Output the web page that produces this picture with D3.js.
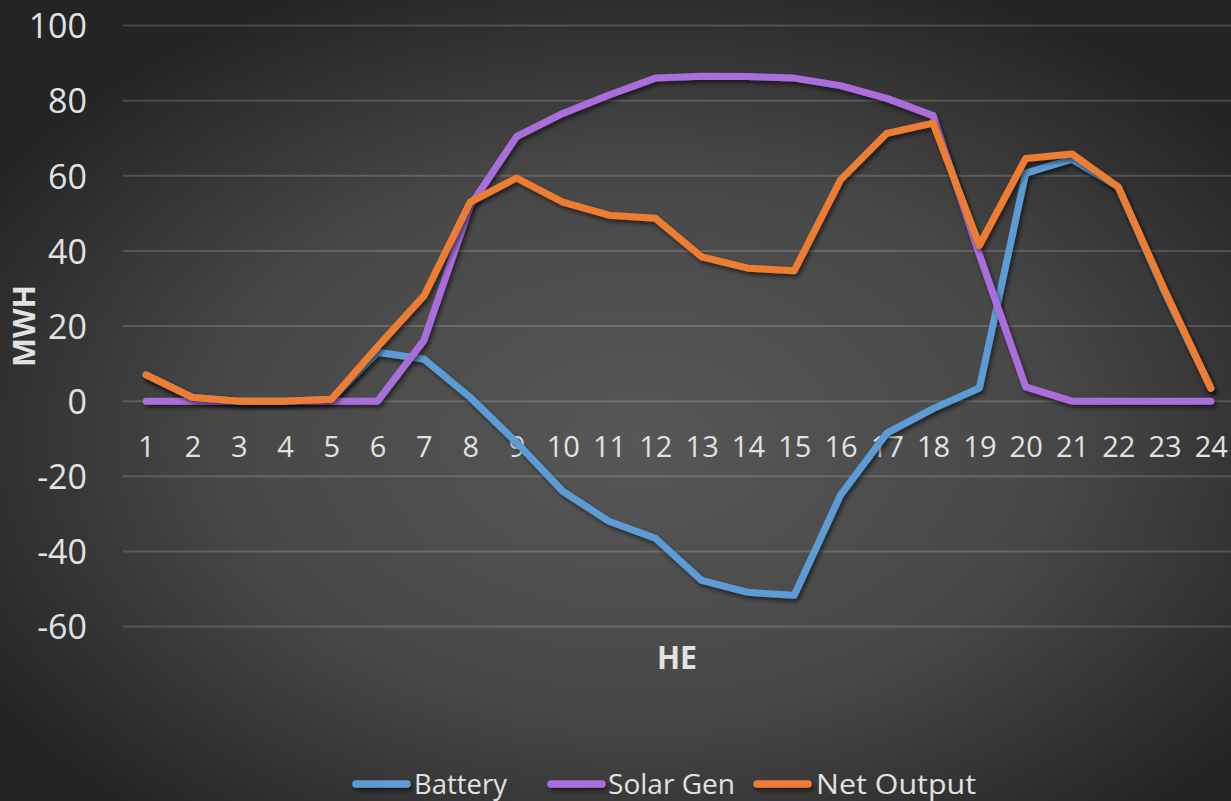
<!DOCTYPE html>
<html>
<head>
<meta charset="utf-8">
<script src="https://cdn.jsdelivr.net/npm/d3@7"></script>
<style>
  html, body { margin: 0; padding: 0; background: #2a2a2a; }
  svg { display: block; }
  text { font-family: "Open Sans", "Noto Sans", sans-serif; fill: #e2e2e2; }
</style>
</head>
<body>
<svg id="chart" width="1231" height="801"></svg>
<script>
const categories = ["1","2","3","4","5","6","7","8","9","10","11","12","13","14","15","16","17","18","19","20","21","22","23","24"];
const battery   = [7, 1, 0, 0, 0.5, 13, 11.2, 1, -11, -24, -32, -36.5, -47.7, -50.9, -51.7, -25, -8.5, -2, 3.5, 60.7, 64.4, 57, 29, 3.4];
const solarGen  = [0, 0, 0, 0, 0, 0, 16.2, 52, 70.4, 76.6, 81.5, 86, 86.5, 86.4, 86, 84, 80.6, 76, 39, 3.8, 0, 0, 0, 0];
const netOutput = [7, 1, 0, 0, 0.5, 14.5, 28, 53, 59.4, 53, 49.5, 48.7, 38.4, 35.4, 34.7, 58.9, 71.3, 74, 41.5, 64.6, 65.8, 57, 29.6, 3.4];
const yTicks = [-60, -40, -20, 0, 20, 40, 60, 80, 100];
const seriesNames = ["Battery", "Solar Gen", "Net Output"];
const seriesColors = ["#5B9BD5", "#A96EDB", "#ED7D31"];

const W = 1231, H = 801;
const svg = d3.select("#chart");
const defs = svg.append("defs");

const grad = defs.append("radialGradient").attr("id", "bg")
  .attr("cx", "52%").attr("cy", "55%").attr("r", "62%");
grad.append("stop").attr("offset", "0%").attr("stop-color", "#575757");
grad.append("stop").attr("offset", "55%").attr("stop-color", "#474747");
grad.append("stop").attr("offset", "100%").attr("stop-color", "#242424");
svg.append("rect").attr("width", W).attr("height", H).attr("fill", "url(#bg)");

const shadow = defs.append("filter").attr("id", "shadow")
  .attr("filterUnits", "userSpaceOnUse")
  .attr("x", 0).attr("y", 0).attr("width", W).attr("height", H);
shadow.append("feDropShadow").attr("dx", 2).attr("dy", 3).attr("stdDeviation", 2)
  .attr("flood-color", "#000").attr("flood-opacity", 0.55);

const x = d3.scalePoint().domain(categories).range([123, 1234]).padding(0.5);
const y = d3.scaleLinear().domain([-60, 100]).range([626.5, 25.5]);

// gridlines
svg.append("g").selectAll("line").data(yTicks).join("line")
  .attr("x1", 123).attr("x2", W)
  .attr("y1", d => y(d)).attr("y2", d => y(d))
  .attr("stroke", "rgba(255,255,255,0.16)").attr("stroke-width", 2);

// y axis labels
const yAxis = d3.axisLeft(y).tickValues(yTicks).tickSize(0).tickPadding(0).tickFormat(d => String(d));
const gy = svg.append("g").attr("transform", "translate(87,0)").call(yAxis);
gy.select(".domain").remove();
gy.selectAll("text").attr("font-size", 34).attr("fill", "#e2e2e2")
  .attr("font-family", '"Open Sans", sans-serif').attr("dy", "0.36em");

// x axis labels (category axis crossing at 0)
const xAxis = d3.axisBottom(x).tickSize(0).tickPadding(0);
const gx = svg.append("g").attr("transform", "translate(0,447)").call(xAxis);
gx.select(".domain").remove();
gx.selectAll("text").attr("font-size", 29).attr("fill", "#e2e2e2")
  .attr("font-family", '"Open Sans", sans-serif').attr("dy", "0.36em");

// axis titles
svg.append("text").attr("x", 677).attr("y", 657).attr("dy", "0.36em")
  .attr("text-anchor", "middle").attr("font-size", 33).attr("font-weight", "bold")
  .attr("textLength", 40).attr("lengthAdjust", "spacingAndGlyphs").text("HE");
svg.append("text").attr("transform", "translate(24,326) rotate(-90)").attr("dy", "0.36em")
  .attr("text-anchor", "middle").attr("font-size", 30).attr("font-weight", "bold")
  .attr("textLength", 82).attr("lengthAdjust", "spacingAndGlyphs").text("MWH");

// lines
const allSeries = [battery, solarGen, netOutput];
const line = d3.line().x((d, i) => x(categories[i])).y(d => y(d));
svg.append("g").selectAll("path").data(allSeries).join("path")
  .attr("d", d => line(d))
  .attr("fill", "none")
  .attr("stroke", (d, i) => seriesColors[i])
  .attr("stroke-width", 7)
  .attr("stroke-linejoin", "round")
  .attr("stroke-linecap", "round")
  .attr("filter", "url(#shadow)");

// legend
const legendItems = [
  {lx: 352, tx: 414, tw: 93},
  {lx: 547, tx: 608, tw: 127},
  {lx: 753, tx: 816, tw: 160}
];
const lg = svg.append("g");
legendItems.forEach((it, i) => {
  lg.append("line").attr("x1", it.lx + 4).attr("x2", it.lx + 55)
    .attr("y1", 784).attr("y2", 784)
    .attr("stroke", seriesColors[i]).attr("stroke-width", 7.5).attr("stroke-linecap", "round")
    .attr("filter", "url(#shadow)");
  lg.append("text").attr("x", it.tx).attr("y", 784).attr("dy", "0.36em")
    .attr("font-size", 28).attr("textLength", it.tw).attr("lengthAdjust", "spacingAndGlyphs")
    .text(seriesNames[i]);
});
</script>
</body>
</html>
